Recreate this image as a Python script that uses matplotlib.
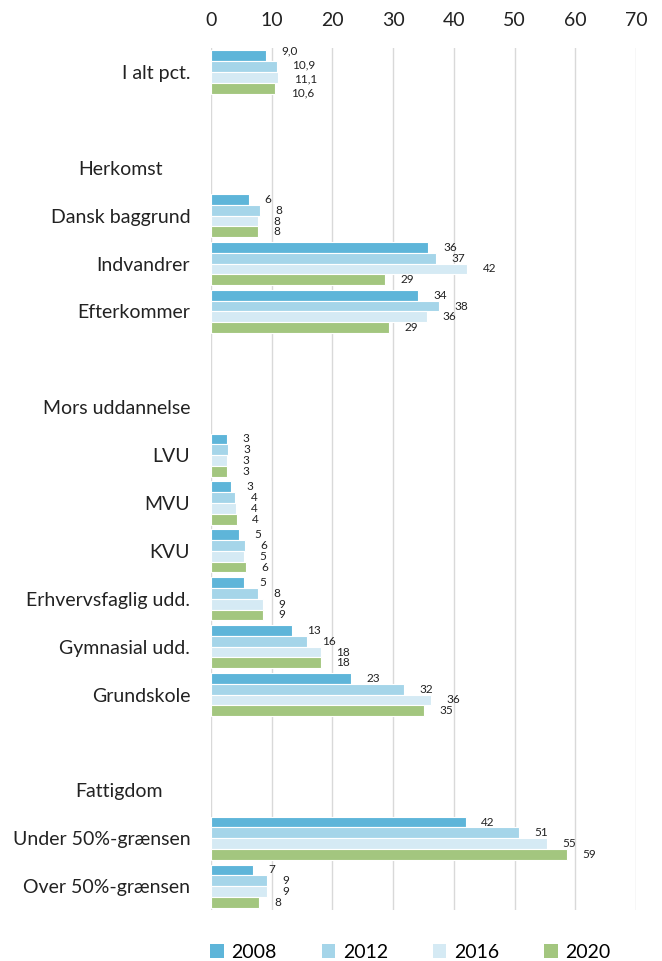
import numpy as np
import matplotlib
matplotlib.use('Agg')
import matplotlib.pyplot as plt
from matplotlib.patches import Patch

plt.rcParams['font.family'] = ['Lato', 'DejaVu Sans']

# rows top to bottom; None = blank/header row without bars
categories = ['I alt pct.', '', 'Herkomst', 'Dansk baggrund', 'Indvandrer', 'Efterkommer', '',
              'Mors uddannelse', 'LVU', 'MVU', 'KVU', 'Erhvervsfaglig udd.', 'Gymnasial udd.',
              'Grundskole', '', 'Fattigdom', 'Under 50%-grænsen', 'Over 50%-grænsen']
headers = ['Herkomst', 'Fattigdom']

years = ['2008', '2012', '2016', '2020']
colors = ['#5EB5D9', '#A5D5E9', '#D5EAF4', '#A3C67F']

v2008 = [9.0, None, None, 6.2, 35.7, 34.1, None, None, 2.6, 3.3, 4.6, 5.4, 13.3, 23.1, None, None, 42.0, 6.9]
v2012 = [10.9, None, None, 8.1, 37.1, 37.6, None, None, 2.8, 4.0, 5.6, 7.7, 15.8, 31.8, None, None, 50.7, 9.2]
v2016 = [11.1, None, None, 7.8, 42.2, 35.6, None, None, 2.7, 4.1, 5.4, 8.6, 18.1, 36.2, None, None, 55.4, 9.2]
v2020 = [10.6, None, None, 7.8, 28.7, 29.4, None, None, 2.7, 4.3, 5.8, 8.6, 18.1, 35.1, None, None, 58.6, 7.9]
series = [v2008, v2012, v2016, v2020]

fig = plt.figure(figsize=(6.62, 9.61), dpi=100)
ax = fig.add_axes([0.3187, 0.053, 0.6420, 0.897])

n = len(categories)
pos = np.arange(n)
h = 0.225

for i, (vals, col) in enumerate(zip(series, colors)):
    offs = (i - 1.5) * h
    for j, v in enumerate(vals):
        if v is None:
            continue
        ax.barh(pos[j] + offs, v, height=h, color=col, edgecolor='white', linewidth=0.8, zorder=3)
        if j == 0:
            lab = f'{v:.1f}'.replace('.', ',')
            dy = (i - 1.5) * 2.5  # the total-row labels are spread a bit more
        else:
            lab = f'{round(v):d}'
            dy = 0
        ax.annotate(lab, (v, pos[j] + offs), xytext=(11, -dy), textcoords='offset points',
                    ha='left', va='center', fontsize=8.5, color='#222222')

ax.set_xlim(0, 70)
ax.set_ylim(n - 0.5, -0.5)
ax.set_xticks(np.arange(0, 71, 10))
ax.xaxis.tick_top()
ax.tick_params(axis='x', length=0, labelsize=14, pad=14, colors='#222222')
ax.tick_params(axis='y', length=0, labelsize=14, pad=15, colors='#222222')
ax.set_yticks(pos)
ax.set_yticklabels(categories)
for t, c in zip(ax.yaxis.get_major_ticks(), categories):
    if c in headers:
        t.set_pad(35)
ax.grid(axis='x', color='#D9D9D9', linewidth=1, zorder=0)
for s in ax.spines.values():
    s.set_visible(False)

handles = [Patch(facecolor=c, label=y) for c, y in zip(colors, years)]
fig.legend(handles=handles, loc='center', bbox_to_anchor=(0.62, 0.009), ncol=4, frameon=False,
           fontsize=14, handlelength=0.7, handleheight=0.7, handletextpad=0.4,
           columnspacing=2.3, borderpad=0)

fig.savefig('out.png', dpi=100)
